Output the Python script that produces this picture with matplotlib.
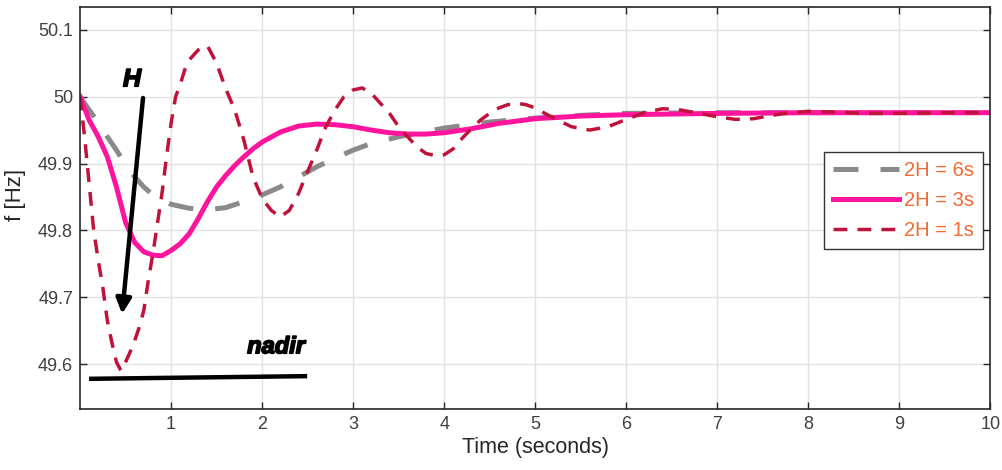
import matplotlib
matplotlib.use("Agg")
import matplotlib.pyplot as plt
import matplotlib.patheffects as pe
from matplotlib.ticker import FuncFormatter

plt.rcParams['font.family'] = ['Liberation Sans', 'DejaVu Sans']

# 2H = 6s
t_6s = [0, 0.1, 0.2, 0.3, 0.4, 0.5, 0.6, 0.7, 0.8, 0.9, 1.0, 1.2, 1.4, 1.6,
        1.8, 2.0, 2.2, 2.4, 2.6, 2.8, 3.0, 3.2, 3.5, 4.0, 4.5, 5.0, 5.5, 6.0,
        7.0, 8.0, 9.0, 10.0]
f_6s = [50.0, 49.98, 49.962, 49.94, 49.92, 49.898, 49.88, 49.865, 49.853,
        49.845, 49.839, 49.833, 49.831, 49.834, 49.843, 49.853, 49.865, 49.88,
        49.895, 49.908, 49.92, 49.93, 49.94, 49.953, 49.962, 49.968, 49.972,
        49.975, 49.976, 49.976, 49.976, 49.976]

# 2H = 3s
t_3s = [0, 0.1, 0.2, 0.3, 0.4, 0.5, 0.6, 0.7, 0.8, 0.9, 1.0, 1.1, 1.2, 1.3,
        1.4, 1.5, 1.6, 1.7, 1.8, 1.9, 2.0, 2.2, 2.4, 2.6, 2.8, 3.0, 3.2, 3.4,
        3.6, 3.8, 4.0, 4.3, 4.6, 5.0, 5.5, 6.0, 7.0, 8.0, 9.0, 10.0]
f_3s = [50.0, 49.965, 49.94, 49.91, 49.865, 49.812, 49.782, 49.768, 49.763,
        49.762, 49.77, 49.78, 49.795, 49.818, 49.843, 49.865, 49.882, 49.897,
        49.91, 49.922, 49.932, 49.947, 49.956, 49.959, 49.958, 49.955, 49.95,
        49.946, 49.944, 49.944, 49.946, 49.952, 49.96, 49.967, 49.971, 49.973,
        49.975, 49.976, 49.976, 49.976]

# 2H = 1s
t_1s = [0, 0.05, 0.1, 0.15, 0.2, 0.25, 0.3, 0.35, 0.4, 0.45, 0.5, 0.55, 0.6,
        0.65, 0.7, 0.75, 0.8, 0.85, 0.9, 0.95, 1.0, 1.05, 1.1, 1.15, 1.2, 1.3,
        1.4, 1.5, 1.6, 1.7, 1.8, 1.9, 2.0, 2.1, 2.2, 2.3, 2.4, 2.5, 2.6, 2.7,
        2.8, 2.9, 3.0, 3.1, 3.2, 3.3, 3.4, 3.5, 3.6, 3.7, 3.8, 3.9, 4.0, 4.1,
        4.2, 4.3, 4.4, 4.5, 4.6, 4.7, 4.8, 4.9, 5.0, 5.2, 5.4, 5.6, 5.8, 6.0,
        6.2, 6.4, 6.6, 6.8, 7.0, 7.2, 7.4, 7.6, 7.8, 8.0, 8.3, 8.6, 9.0, 9.5,
        10.0]
f_1s = [50.0, 49.94, 49.87, 49.8, 49.755, 49.715, 49.665, 49.632, 49.603,
        49.59, 49.603, 49.618, 49.635, 49.655, 49.68, 49.725, 49.765, 49.81,
        49.855, 49.91, 49.96, 50.0, 50.018, 50.04, 50.055, 50.07, 50.076,
        50.05, 50.012, 49.98, 49.935, 49.88, 49.848, 49.83, 49.82, 49.83,
        49.855, 49.888, 49.92, 49.955, 49.98, 50.0, 50.01, 50.013, 50.005,
        49.99, 49.975, 49.955, 49.94, 49.925, 49.915, 49.912, 49.913, 49.922,
        49.938, 49.952, 49.965, 49.975, 49.983, 49.988, 49.99, 49.988, 49.983,
        49.968, 49.955, 49.95, 49.955, 49.966, 49.976, 49.982, 49.98, 49.975,
        49.97, 49.966, 49.967, 49.972, 49.976, 49.978, 49.977, 49.975, 49.975,
        49.976, 49.976]

labels = ['2H = 6s', '2H = 3s', '2H = 1s']
x_ticks = [1, 2, 3, 4, 5, 6, 7, 8, 9, 10]
y_ticks = [49.6, 49.7, 49.8, 49.9, 50.0, 50.1]

fig = plt.figure(figsize=(10.03, 4.70), dpi=100)
ax = fig.add_axes([0.0798, 0.130, 0.9075, 0.855])

ax.plot(t_6s, f_6s, color='#8a8a8a', lw=3.6, dashes=(5, 4.4), label=labels[0])
ax.plot(t_3s, f_3s, color='#ff149e', lw=3.6, label=labels[1])
ax.plot(t_1s, f_1s, color='#c0133c', lw=2.5, dashes=(4, 2.9), label=labels[2])

ax.set_xlim(0, 10)
ax.set_ylim(49.533, 50.134)
ax.set_xticks(x_ticks)
ax.set_yticks(y_ticks)
ax.yaxis.set_major_formatter(FuncFormatter(lambda v, p: '%g' % round(v, 2)))
ax.grid(True, color='#e2e2e2', lw=1)
ax.tick_params(direction='in', length=5, width=1, top=True, right=True,
               labelsize=13, labelcolor='#404040', color='#262626', pad=5)
for s in ax.spines.values():
    s.set_color('#262626')
    s.set_linewidth(1.2)

ax.set_xlabel('Time (seconds)', fontsize=15.5, color='#262626', labelpad=3)
ax.set_ylabel('f [Hz]', fontsize=16, color='#262626')
ax.yaxis.set_label_coords(-0.059, 0.532)

leg = ax.legend(loc='upper right', bbox_to_anchor=(0.992, 0.639),
                borderaxespad=0, fontsize=14.5, handlelength=3.25,
                handletextpad=0.25, labelspacing=0.55, borderpad=0.45,
                fancybox=False, framealpha=1, edgecolor='#333333')
leg.get_frame().set_linewidth(1)
for txt in leg.get_texts():
    txt.set_color('#f26a30')

# annotations
ax.annotate('', xy=(0.462, 49.675), xytext=(0.692, 49.998),
            arrowprops=dict(arrowstyle='-|>,head_length=0.9,head_width=0.45',
                            color='black', lw=3.2, shrinkA=0, shrinkB=0))
ax.text(0.571, 50.026, 'H', fontsize=18, fontweight='heavy', style='italic',
        ha='center', va='center', color='black',
        path_effects=[pe.withStroke(linewidth=1.2, foreground='black')])
ax.text(2.154, 49.626, 'nadir', fontsize=17, fontweight='heavy', style='italic',
        ha='center', va='center', color='black',
        path_effects=[pe.withStroke(linewidth=1.2, foreground='black')])
ax.plot([0.099, 2.495], [49.578, 49.582], color='black', lw=3.2,
        solid_capstyle='butt')

fig.savefig('out.png', dpi=100)
